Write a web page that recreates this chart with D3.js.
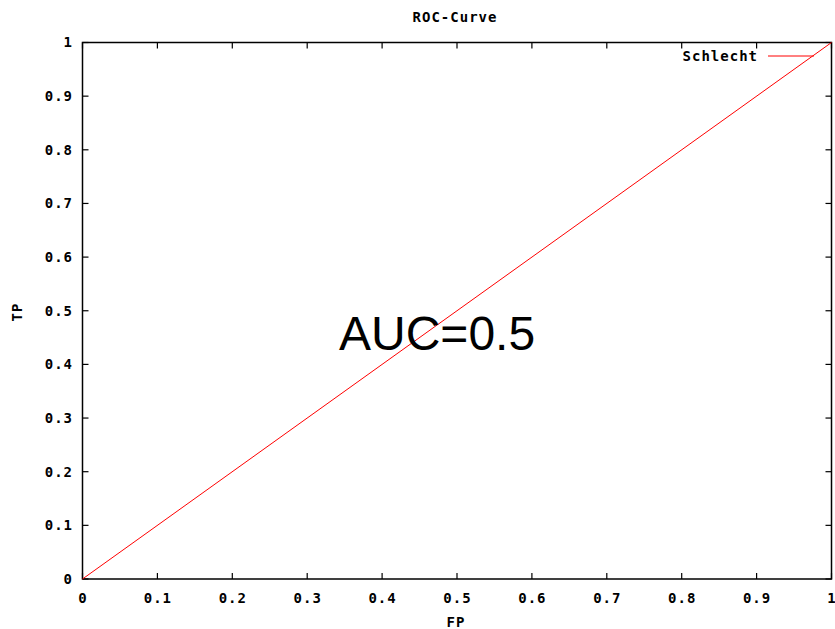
<!DOCTYPE html>
<html>
<head>
<meta charset="utf-8">
<script src="https://cdn.jsdelivr.net/npm/d3@7"></script>
<style>
  body { margin: 0; background: #fff; }
  .lbl { font-family: "DejaVu Sans Mono", monospace; font-weight: bold; font-size: 14px; letter-spacing: 1px; fill: #000; }
</style>
</head>
<body>
<svg width="835" height="629"></svg>
<script>
var title = "ROC-Curve";
var seriesName = "Schlecht";
var fpValues = [0, 1];
var tpValues = [0, 1];
var tickValues = [0, 0.1, 0.2, 0.3, 0.4, 0.5, 0.6, 0.7, 0.8, 0.9, 1];
var aucText = "AUC=0.5";

var svg = d3.select("svg"),
    width = +svg.attr("width"),
    height = +svg.attr("height");

// plot box (don't call these top/left: window.top is read-only)
var pLeft = 82.5, pRight = 831.5, pTop = 42.5, pBottom = 579;

var x = d3.scaleLinear().domain([0, 1]).range([pLeft, pRight]);
var y = d3.scaleLinear().domain([0, 1]).range([pBottom, pTop]);

var fmt = function(d) { return d3.format("")(d); };
var tickLen = 6;

// tick marks, inward on all four sides
var g = svg.append("g").attr("stroke", "#000").attr("stroke-width", 1.2);
tickValues.forEach(function(t) {
  g.append("line").attr("x1", x(t)).attr("x2", x(t)).attr("y1", pBottom).attr("y2", pBottom - tickLen);
  g.append("line").attr("x1", x(t)).attr("x2", x(t)).attr("y1", pTop).attr("y2", pTop + tickLen);
  g.append("line").attr("y1", y(t)).attr("y2", y(t)).attr("x1", pLeft).attr("x2", pLeft + tickLen);
  g.append("line").attr("y1", y(t)).attr("y2", y(t)).attr("x1", pRight).attr("x2", pRight - tickLen);
});

svg.append("rect")
    .attr("x", pLeft).attr("y", pTop)
    .attr("width", pRight - pLeft).attr("height", pBottom - pTop)
    .attr("fill", "none").attr("stroke", "#000").attr("stroke-width", 1.5);

// tick labels
svg.append("g").selectAll("text")
    .data(tickValues)
  .enter().append("text")
    .attr("class", "lbl")
    .attr("x", 73)
    .attr("y", function(d) { return y(d); })
    .attr("dy", "0.35em")
    .attr("text-anchor", "end")
    .text(fmt);

svg.append("g").selectAll("text")
    .data(tickValues)
  .enter().append("text")
    .attr("class", "lbl")
    .attr("x", function(d) { return x(d) + 0.5; })
    .attr("y", 603)
    .attr("text-anchor", "middle")
    .text(fmt);

// titles
svg.append("text").attr("class", "lbl")
    .attr("x", 455).attr("y", 22).attr("text-anchor", "middle").text(title);
svg.append("text").attr("class", "lbl")
    .attr("x", 456).attr("y", 627).attr("text-anchor", "middle").text("FP");
svg.append("text").attr("class", "lbl")
    .attr("transform", "translate(22,312) rotate(-90)")
    .attr("text-anchor", "middle").text("TP");

// curve
var line = d3.line()
    .x(function(d) { return x(d[0]); })
    .y(function(d) { return y(d[1]); });

svg.append("path")
    .datum(d3.zip(fpValues, tpValues))
    .attr("d", line)
    .attr("fill", "none")
    .attr("stroke", "#ff0000")
    .attr("stroke-width", 1);

// legend
svg.append("text").attr("class", "lbl")
    .attr("x", 758).attr("y", 61).attr("text-anchor", "end").text(seriesName);
svg.append("line")
    .attr("x1", 768).attr("x2", 814).attr("y1", 56).attr("y2", 56)
    .attr("stroke", "#ff0000").attr("stroke-width", 1);

// annotation
svg.append("text")
    .attr("x", 339).attr("y", 350)
    .style("font-family", "'Liberation Sans', Arial, sans-serif")
    .style("font-size", "48px")
    .attr("fill", "#000")
    .text(aucText);
</script>
</body>
</html>
